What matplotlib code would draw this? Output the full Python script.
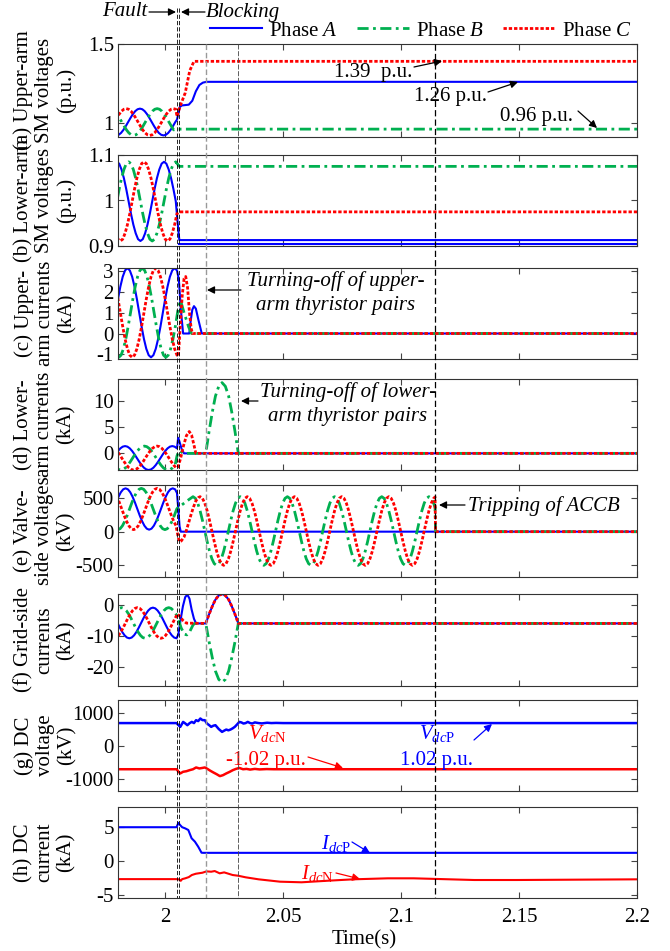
import numpy as np
import matplotlib
matplotlib.use("Agg")
import matplotlib.pyplot as plt
from matplotlib.patches import FancyArrowPatch

plt.rcParams.update({
    "font.family": ["Liberation Serif", "DejaVu Serif"],
    "mathtext.fontset": "custom",
    "mathtext.rm": "Liberation Serif",
    "mathtext.it": "Liberation Serif:italic",
    "font.size": 15,
    "axes.unicode_minus": False,
})

# ---------------------------------------------------------------- data
STEP = 0.001  # sample spacing of the steady-state waveforms (s)

# event instants (s): fault, blocking, upper-arm off, lower-arm off, ACCB trip
event_times = [2.0048, 2.0057, 2.0172, 2.0310, 2.1145]

x_ticks = [2.0, 2.05, 2.1, 2.15, 2.2]
x_tick_labels = ["2", "2.05", "2.1", "2.15", "2.2"]

# (a) upper-arm SM voltages (p.u.)
a_blue_t0 = 1.9793
a_blue_pre = [0.920, 0.924, 0.936, 0.955, 0.979, 1.005, 1.031, 1.055, 1.074, 1.086,
              1.090, 1.086, 1.074, 1.055, 1.031, 1.005, 0.979, 0.955, 0.936, 0.924,
              0.920, 0.924, 0.936, 0.955, 0.979, 1.005]
a_blue_post_t = [2.0050, 2.0056, 2.0062, 2.0070, 2.0100, 2.0115, 2.0130, 2.0145, 2.0160, 2.0175, 2.2000]
a_blue_post = [1.020, 1.060, 1.100, 1.110, 1.115, 1.140, 1.200, 1.240, 1.255, 1.260, 1.260]

a_red_t0 = 1.9735
a_red_pre = [0.920, 0.924, 0.936, 0.955, 0.979, 1.005, 1.031, 1.055, 1.074, 1.086,
             1.090, 1.086, 1.074, 1.055, 1.031, 1.005, 0.979, 0.955, 0.936, 0.924,
             0.920, 0.924, 0.936, 0.955, 0.979, 1.005, 1.031, 1.055, 1.074, 1.086,
             1.090, 1.086]
a_red_post_t = [2.0050, 2.0058, 2.0067, 2.0085, 2.0104, 2.0122, 2.2000]
a_red_post = [1.040, 1.080, 1.120, 1.190, 1.330, 1.390, 1.390]

a_green_t0 = 1.9766
a_green_pre = [1.090, 1.086, 1.074, 1.055, 1.031, 1.005, 0.979, 0.955, 0.936, 0.924,
               0.920, 0.924, 0.936, 0.955, 0.979, 1.005, 1.031, 1.055, 1.074, 1.086,
               1.090, 1.086, 1.074, 1.055, 1.031, 1.005, 0.979, 0.955]
a_green_post_t = [2.0046, 2.2000]
a_green_post = [0.960, 0.960]

# (b) lower-arm SM voltages (p.u.)
b_blue_t0 = 1.9795
b_blue_pre = [1.085, 1.081, 1.068, 1.049, 1.025, 0.998, 0.971, 0.947, 0.928, 0.915,
              0.911, 0.915, 0.928, 0.947, 0.971, 0.998, 1.025, 1.049, 1.068, 1.081,
              1.085, 1.081, 1.068, 1.049, 1.025, 0.998]
b_blue_post_t = [2.0053, 2.0060, 2.2000]
b_blue_post = [0.950, 0.913, 0.913]
b_blue2_t = [2.0060, 2.2000]
b_blue2 = [0.904, 0.904]

b_red_t0 = 1.9710
b_red_pre = [1.085, 1.081, 1.068, 1.049, 1.025, 0.998, 0.971, 0.947, 0.928, 0.915,
             0.911, 0.915, 0.928, 0.947, 0.971, 0.998, 1.025, 1.049, 1.068, 1.081,
             1.085, 1.081, 1.068, 1.049, 1.025, 0.998, 0.971, 0.947, 0.928, 0.915,
             0.911, 0.915, 0.928, 0.947, 0.971]
b_red_post_t = [2.0060, 2.2000]
b_red_post = [0.975, 0.975]

b_green_t0 = 1.9745
b_green_pre = [0.911, 0.915, 0.928, 0.947, 0.971, 0.998, 1.025, 1.049, 1.068, 1.081,
               1.085, 1.081, 1.068, 1.049, 1.025, 0.998, 0.971, 0.947, 0.928, 0.915,
               0.911, 0.915, 0.928, 0.947, 0.971, 0.998, 1.025, 1.049, 1.068, 1.081,
               1.085]
b_green_post_t = [2.0060, 2.2000]
b_green_post = [1.075, 1.075]

# (c) upper-arm currents (kA)
c_blue_t0 = 1.9740
c_blue_pre = [-1.150, -1.045, -0.739, -0.264, 0.336, 1.000, 1.664, 2.264, 2.739, 3.045,
              3.150, 3.045, 2.739, 2.264, 1.664, 1.000, 0.336, -0.264, -0.739, -1.045,
              -1.150, -1.045, -0.739, -0.264, 0.336, 1.000, 1.664, 2.264, 2.739, 3.045,
              3.150, 3.045]
c_blue_post_t = [2.0058, 2.0066, 2.0076, 2.0102, 2.0108, 2.0115, 2.0122, 2.0130, 2.0140, 2.0155, 2.2000]
c_blue_post = [2.600, 1.200, 0.000, 0.000, 0.600, 1.150, 1.320, 1.200, 0.700, 0.000, 0.000]

c_red_t0 = 1.9760
c_red_pre = [3.150, 3.045, 2.739, 2.264, 1.664, 1.000, 0.336, -0.264, -0.739, -1.045,
             -1.150, -1.045, -0.739, -0.264, 0.336, 1.000, 1.664, 2.264, 2.739, 3.045,
             3.150, 3.045, 2.739, 2.264, 1.664, 1.000, 0.336, -0.264, -0.739, -1.045]
c_red_post_t = [2.0056, 2.0063, 2.0072, 2.0080, 2.0087, 2.0095, 2.0103, 2.0110, 2.0116, 2.2000]
c_red_post = [-1.100, 0.200, 1.800, 2.650, 2.750, 2.200, 1.000, 0.250, 0.000, 0.000]

c_green_t0 = 1.9703
c_green_pre = [3.150, 3.045, 2.739, 2.264, 1.664, 1.000, 0.336, -0.264, -0.739, -1.045,
               -1.150, -1.045, -0.739, -0.264, 0.336, 1.000, 1.664, 2.264, 2.739, 3.045,
               3.150, 3.045, 2.739, 2.264, 1.664, 1.000, 0.336, -0.264, -0.739, -1.045,
               -1.150, -1.045, -0.739, -0.264, 0.336]
c_green_post_t = [2.0055, 2.0065, 2.0080, 2.0100, 2.0112, 2.2000]
c_green_post = [1.200, 1.600, 1.000, 0.300, 0.000, 0.000]

# (d) lower-arm currents (kA)
d_blue_t0 = 1.9730
d_blue_pre = [-3.200, -3.087, -2.761, -2.252, -1.611, -0.900, -0.189, 0.452, 0.961, 1.287,
              1.400, 1.287, 0.961, 0.452, -0.189, -0.900, -1.611, -2.252, -2.761, -3.087,
              -3.200, -3.087, -2.761, -2.252, -1.611, -0.900, -0.189, 0.452, 0.961, 1.287,
              1.400, 1.287, 0.961]
d_blue_post_t = [2.0055, 2.0061, 2.0070, 2.0080, 2.2000]
d_blue_post = [3.000, 2.200, 0.800, 0.000, 0.000]

d_red_t0 = 1.9766
d_red_pre = [1.400, 1.287, 0.961, 0.452, -0.189, -0.900, -1.611, -2.252, -2.761, -3.087,
             -3.200, -3.087, -2.761, -2.252, -1.611, -0.900, -0.189, 0.452, 0.961, 1.287,
             1.400, 1.287, 0.961, 0.452, -0.189, -0.900, -1.611, -2.252, -2.761]
d_red_post_t = [2.0055, 2.0065, 2.0078, 2.0090, 2.0102, 2.0112, 2.0122, 2.0130, 2.2000]
d_red_post = [-2.600, -1.000, 1.500, 3.400, 4.200, 3.500, 1.600, 0.000, 0.000]

d_green_t0 = 1.9712
d_green_pre = [1.400, 1.287, 0.961, 0.452, -0.189, -0.900, -1.611, -2.252, -2.761, -3.087,
               -3.200, -3.087, -2.761, -2.252, -1.611, -0.900, -0.189, 0.452, 0.961, 1.287,
               1.400, 1.287, 0.961, 0.452, -0.189, -0.900, -1.611, -2.252, -2.761, -3.087,
               -3.200, -3.087, -2.761, -2.252]
d_green_post_t = [2.0050, 2.0058, 2.0068, 2.0077, 2.0172, 2.0186, 2.0200, 2.0213, 2.0227,
                  2.0241, 2.0255, 2.0269, 2.0282, 2.0296, 2.0310, 2.2000]
d_green_post = [-0.500, 0.500, 0.300, 0.000, 0.000, 4.200, 8.000, 11.000, 12.900,
                13.600, 12.900, 11.000, 8.000, 4.200, 0.000, 0.000]

# (e) valve-side voltages (kV)
e_blue_t0 = 1.9732
e_blue_pre = [30, 45, 89, 158, 244, 340, 436, 522, 591, 635,
              650, 635, 591, 522, 436, 340, 244, 158, 89, 45,
              30, 45, 89, 158, 244, 340, 436, 522, 591, 635,
              650, 635]
e_blue_post_t = [2.0050, 2.0056, 2.0061, 2.0066, 2.2000]
e_blue_post = [580, 320, 80, 0, 0]

e_red_t0 = 1.9766
e_red_pre = [650, 635, 591, 522, 436, 340, 244, 158, 89, 45,
             30, 45, 89, 158, 244, 340, 436, 522, 591, 635,
             650, 635, 591, 522, 436, 340, 244, 158, 89]
e_red_mid_t = [2.0054, 2.0060, 2.0068, 2.0080, 2.0090, 2.0100, 2.0110, 2.0120, 2.0130, 2.0140]
e_red_mid = [-60, -150, -140, -80, 20, 140, 260, 370, 460, 510]
e_red_osc_t0 = 2.0148
e_red_osc = [525, 500, 427, 313, 169, 10, -149, -293, -407, -480,
             -505, -480, -407, -293, -149, 10, 169, 313, 427, 500,
             525, 500, 427, 313, 169, 10, -149, -293, -407, -480,
             -505, -480, -407, -293, -149, 10, 169, 313, 427, 500,
             525, 500, 427, 313, 169, 10, -149, -293, -407, -480,
             -505, -480, -407, -293, -149, 10, 169, 313, 427, 500,
             525, 500, 427, 313, 169, 10, -149, -293, -407, -480,
             -505, -480, -407, -293, -149, 10, 169, 313, 427, 500,
             525, 500, 427, 313, 169, 10, -149, -293, -407, -480,
             -505, -480, -407, -293, -149, 10, 169, 313, 427, 500]
e_red_end_t = [2.1144, 2.1146, 2.2000]
e_red_end = [520, 0, 0]

e_green_t0 = 1.9799
e_green_pre = [30, 45, 89, 158, 244, 340, 436, 522, 591, 635,
               650, 635, 591, 522, 436, 340, 244, 158, 89, 45,
               30, 45, 89, 158, 244, 340]
e_green_mid_t = [2.0056, 2.0070, 2.0085, 2.0100]
e_green_mid = [370, 400, 440, 480]
e_green_osc_t0 = 2.0118
e_green_osc = [525, 500, 427, 313, 169, 10, -149, -293, -407, -480,
               -505, -480, -407, -293, -149, 10, 169, 313, 427, 500,
               525, 500, 427, 313, 169, 10, -149, -293, -407, -480,
               -505, -480, -407, -293, -149, 10, 169, 313, 427, 500,
               525, 500, 427, 313, 169, 10, -149, -293, -407, -480,
               -505, -480, -407, -293, -149, 10, 169, 313, 427, 500,
               525, 500, 427, 313, 169, 10, -149, -293, -407, -480,
               -505, -480, -407, -293, -149, 10, 169, 313, 427, 500,
               525, 500, 427, 313, 169, 10, -149, -293, -407, -480,
               -505, -480, -407, -293, -149, 10, 169, 313, 427, 500,
               525, 500, 427]
e_green_end_t = [2.1144, 2.1146, 2.2000]
e_green_end = [360, 0, 0]

# (f) grid-side currents (kA)
f_blue_t0 = 1.9748
f_blue_pre = [-0.90, -1.14, -1.85, -2.94, -4.32, -5.85, -7.38, -8.76, -9.85, -10.56,
              -10.80, -10.56, -9.85, -8.76, -7.38, -5.85, -4.32, -2.94, -1.85, -1.14,
              -0.90, -1.14, -1.85, -2.94, -4.32, -5.85, -7.38, -8.76, -9.85, -10.56,
              -10.80]
f_blue_post_t = [2.0056, 2.0065, 2.0075, 2.0085, 2.0094, 2.0103, 2.0112, 2.0122, 2.0131, 2.0172,
                 2.0186, 2.0200, 2.0213, 2.0227, 2.0241, 2.0255, 2.0269, 2.0282, 2.0296, 2.0310, 2.2000]
f_blue_post = [-9.50, -5.00, -0.50, 2.50, 3.30, 2.00, -1.50, -4.50, -6.00, -6.00,
               -3.06, -0.41, 1.69, 3.03, 3.50, 3.03, 1.69, -0.41, -3.06, -6.00, -6.00]

f_red_t0 = 1.9782
f_red_pre = [-10.80, -10.56, -9.85, -8.76, -7.38, -5.85, -4.32, -2.94, -1.85, -1.14,
             -0.90, -1.14, -1.85, -2.94, -4.32, -5.85, -7.38, -8.76, -9.85, -10.56,
             -10.80, -10.56, -9.85, -8.76, -7.38, -5.85, -4.32, -2.94]
f_red_post_t = [2.0060, 2.0075, 2.0090, 2.0172, 2.0186, 2.0200, 2.0213, 2.0227, 2.0241,
                2.0255, 2.0269, 2.0282, 2.0296, 2.0310, 2.2000]
f_red_post = [-3.50, -5.00, -5.90, -6.00, -3.06, -0.41, 1.69, 3.03, 3.50,
              3.03, 1.69, -0.41, -3.06, -6.00, -6.00]

f_green_t0 = 1.9715
f_green_pre = [-10.80, -10.56, -9.85, -8.76, -7.38, -5.85, -4.32, -2.94, -1.85, -1.14,
               -0.90, -1.14, -1.85, -2.94, -4.32, -5.85, -7.38, -8.76, -9.85, -10.56,
               -10.80, -10.56, -9.85, -8.76, -7.38, -5.85, -4.32, -2.94, -1.85, -1.14,
               -0.90, -1.14, -1.85, -2.94]
f_green_post_t = [2.0055, 2.0068, 2.0082, 2.0092, 2.0105, 2.0118, 2.0125, 2.0172, 2.0186, 2.0200,
                  2.0213, 2.0227, 2.0241, 2.0255, 2.0269, 2.0282, 2.0296, 2.0310, 2.2000]
f_green_post = [-4.50, -7.50, -9.50, -9.70, -8.50, -6.50, -6.00, -6.00, -11.87, -17.17,
                -21.37, -24.07, -25.00, -24.07, -21.37, -17.17, -11.87, -6.00, -6.00]

# (g) DC voltages (kV)
g_p_t = [1.9800, 2.0048, 2.0056, 2.0064, 2.0070, 2.0076, 2.0085, 2.0094, 2.0104, 2.0113,
         2.0122, 2.0131, 2.0140, 2.0149, 2.0158, 2.0168, 2.0177, 2.0186, 2.0195, 2.0204,
         2.0213, 2.0227, 2.0241, 2.0250, 2.0259, 2.0268, 2.0277, 2.0286, 2.0295, 2.0305,
         2.0314, 2.0323, 2.0332, 2.0341, 2.0350, 2.0360, 2.0369, 2.0380, 2.0396, 2.0410,
         2.0432, 2.0450, 2.0470, 2.0500, 2.2000]
g_p = [700, 700, 640, 585, 660, 736, 690, 636, 700, 736,
       700, 788, 760, 839, 790, 788, 686, 640, 585, 620,
       636, 520, 433, 470, 504, 480, 504, 540, 585, 660,
       736, 720, 686, 700, 736, 700, 686, 720, 700, 690,
       710, 700, 705, 700, 700]
g_n_t = [1.9800, 2.0048, 2.0056, 2.0064, 2.0076, 2.0090, 2.0104, 2.0118, 2.0131, 2.0145,
         2.0158, 2.0168, 2.0177, 2.0190, 2.0204, 2.0218, 2.0232, 2.0245, 2.0259, 2.0273,
         2.0287, 2.0300, 2.0314, 2.0330, 2.0345, 2.0360, 2.0380, 2.0400, 2.0430, 2.0460,
         2.2000]
g_n = [-700, -700, -770, -827, -777, -760, -727, -700, -646, -676,
       -660, -646, -680, -740, -797, -850, -909, -880, -827, -780,
       -727, -690, -660, -700, -690, -710, -690, -705, -695, -700,
       -700]

# (h) DC currents (kA)
h_p_t = [1.9800, 2.0048, 2.0056, 2.0063, 2.0072, 2.0084, 2.0098, 2.0112, 2.0126, 2.0140,
         2.0154, 2.0162, 2.2000]
h_p = [5.00, 5.00, 5.65, 5.33, 5.00, 4.84, 4.59, 3.36, 2.86, 2.11,
       1.22, 1.20, 1.20]
h_n_t = [1.9800, 2.0048, 2.0060, 2.0066, 2.0072, 2.0085, 2.0100, 2.0113, 2.0130, 2.0158,
         2.0175, 2.0195, 2.0210, 2.0231, 2.0250, 2.0286, 2.0310, 2.0341, 2.0396, 2.0487,
         2.0578, 2.0688, 2.0797, 2.0944, 2.1053, 2.1310, 2.1490, 2.2000]
h_n = [-2.70, -2.70, -2.75, -2.95, -2.70, -2.58, -2.40, -2.09, -1.90, -1.75,
       -1.55, -1.60, -1.50, -1.84, -1.70, -2.09, -2.20, -2.43, -2.73, -3.08,
       -3.17, -2.94, -2.73, -2.58, -2.58, -2.83, -2.83, -2.73]


# ---------------------------------------------------------------- helpers
def uniform(t0, vals):
    vals = np.asarray(vals, float)
    return t0 + STEP * np.arange(len(vals)), vals


def points(ts, vals):
    return np.asarray(ts, float), np.asarray(vals, float)


def trace(*parts):
    return (np.concatenate([p[0] for p in parts]),
            np.concatenate([p[1] for p in parts]))


W, H = 670, 951


def fp(x, y):
    """figure pixel (from top-left) -> figure fraction"""
    return (x / W, 1 - y / H)


BLUE = "#0000FF"
GREEN = "#00B050"
RED = "#FF0000"
STYLE_A = dict(color=BLUE, lw=1.5, ls="-")
STYLE_B = dict(color=GREEN, lw=2.0, ls=(0, (4, 1.6, 1, 1.6)))
STYLE_C = dict(color=RED, lw=2.0, ls=(0, (1.2, 0.7)))

fig = plt.figure(figsize=(W / 100, H / 100), dpi=100)

edges = [(44, 137), (155, 246), (268, 359), (379, 470),
         (485, 577), (594, 686), (700, 791), (807, 898)]
axes = [fig.add_axes([118 / W, 1 - b / H, 519 / W, (b - t) / H]) for t, b in edges]

series = [
    [trace(uniform(a_blue_t0, a_blue_pre), points(a_blue_post_t, a_blue_post)),
     trace(uniform(a_green_t0, a_green_pre), points(a_green_post_t, a_green_post)),
     trace(uniform(a_red_t0, a_red_pre), points(a_red_post_t, a_red_post))],
    [trace(uniform(b_blue_t0, b_blue_pre), points(b_blue_post_t, b_blue_post)),
     trace(uniform(b_green_t0, b_green_pre), points(b_green_post_t, b_green_post)),
     trace(uniform(b_red_t0, b_red_pre), points(b_red_post_t, b_red_post))],
    [trace(uniform(c_blue_t0, c_blue_pre), points(c_blue_post_t, c_blue_post)),
     trace(uniform(c_green_t0, c_green_pre), points(c_green_post_t, c_green_post)),
     trace(uniform(c_red_t0, c_red_pre), points(c_red_post_t, c_red_post))],
    [trace(uniform(d_blue_t0, d_blue_pre), points(d_blue_post_t, d_blue_post)),
     trace(uniform(d_green_t0, d_green_pre), points(d_green_post_t, d_green_post)),
     trace(uniform(d_red_t0, d_red_pre), points(d_red_post_t, d_red_post))],
    [trace(uniform(e_blue_t0, e_blue_pre), points(e_blue_post_t, e_blue_post)),
     trace(uniform(e_green_t0, e_green_pre), points(e_green_mid_t, e_green_mid),
           uniform(e_green_osc_t0, e_green_osc), points(e_green_end_t, e_green_end)),
     trace(uniform(e_red_t0, e_red_pre), points(e_red_mid_t, e_red_mid),
           uniform(e_red_osc_t0, e_red_osc), points(e_red_end_t, e_red_end))],
    [trace(uniform(f_blue_t0, f_blue_pre), points(f_blue_post_t, f_blue_post)),
     trace(uniform(f_green_t0, f_green_pre), points(f_green_post_t, f_green_post)),
     trace(uniform(f_red_t0, f_red_pre), points(f_red_post_t, f_red_post))],
]

ylims = [(0.91, 1.5), (0.9, 1.1), (-1.23, 3.16), (-3.2, 14.3),
         (-680, 700), (-26.2, 3.5), (-1360, 1400), (-5.5, 8)]
yticks = [[1, 1.5], [0.9, 1, 1.1], [-1, 0, 1, 2, 3], [0, 5, 10],
          [-500, 0, 500], [-20, -10, 0], [-1000, 0, 1000], [-5, 0, 5]]
ylabels = ["(a) Upper-arm\nSM voltages\n(p.u.)",
           "(b) Lower-arm\nSM voltages\n(p.u.)",
           "(c) Upper-\narm currents\n(kA)",
           "(d) Lower-\narm currents\n(kA)",
           "(e) Valve-\nside voltages\n(kV)",
           "(f) Grid-side\ncurrents\n(kA)",
           "(g) DC\nvoltage\n(kV)",
           "(h) DC\ncurrent\n(kA)"]

legend_handles = None
for i, ax in enumerate(axes):
    if i < len(series):
        blue, green, red = series[i]
        la, = ax.plot(*blue, **STYLE_A)
        if i == 1:
            ax.plot(*points(b_blue2_t, b_blue2), **STYLE_A)
        lb, = ax.plot(*green, **STYLE_B)
        lc, = ax.plot(*red, **STYLE_C)
        if i == 0:
            legend_handles = [la, lb, lc]
    ax.set_xlim(1.98, 2.2)
    ax.set_ylim(*ylims[i])
    ax.set_xticks(x_ticks)
    ax.set_yticks(yticks[i])
    ax.set_yticklabels(["%g" % v for v in yticks[i]])
    ax.tick_params(direction="in", top=True, right=True, length=4, width=0.8,
                   labelsize=15, pad=3, color="#444444")
    if i < 7:
        ax.tick_params(labelbottom=False)
    else:
        ax.set_xticklabels(x_tick_labels)
        ax.tick_params(axis="x", pad=7)
    for sp in ax.spines.values():
        sp.set_color("#333333")
        sp.set_linewidth(0.8)
    t, b = edges[i]
    fig.text(45 / W, 1 - (t + b) / 2 / H, ylabels[i], rotation=90, ha="center",
             va="center", fontsize=15, linespacing=1.15, multialignment="center")

axg, axh = axes[6], axes[7]
axg.plot(*points(g_p_t, g_p), color=BLUE, lw=1.8)
axg.plot(*points(g_n_t, g_n), color=RED, lw=1.8)
axh.plot(*points(h_p_t, h_p), color=BLUE, lw=1.5)
axh.plot(*points(h_n_t, h_n), color=RED, lw=1.5)

fig.text(364 / W, 1 - 940 / H, "Time(s)", ha="center", va="center", fontsize=15)

# vertical event markers across all panels
ov = fig.add_axes([118 / W, 1 - 898 / H, 519 / W, (898 - 6) / H], zorder=10)
ov.set_xlim(1.98, 2.2)
ov.set_ylim(898, 6)
ov.axis("off")
ov.patch.set_alpha(0)
ov.vlines(event_times[0], 8, 898, color="k", lw=0.6, linestyles=(0, (5, 2.5)))
ov.vlines(event_times[1], 8, 898, color="k", lw=0.6, linestyles=(0, (5, 2.5)))
ov.vlines(event_times[2], 44, 898, color="#999999", lw=1.0, linestyles=(0, (4, 2)))
ov.vlines(event_times[3], 44, 898, color="#444444", lw=0.6, linestyles=(0, (6, 2)))
ov.vlines(event_times[4], 44, 898, color="k", lw=0.9, linestyles=(0, (5, 2.5)))


def arrow(p0, p1, color="k"):
    fig.add_artist(FancyArrowPatch(fp(*p0), fp(*p1), transform=fig.transFigure,
                                   arrowstyle="-|>", mutation_scale=11, color=color,
                                   lw=0.9, shrinkA=0, shrinkB=0, zorder=20))


def label(x, y, s, ha="center", color="k", style="normal"):
    fig.text(x / W, 1 - y / H, s, ha=ha, va="center", color=color, fontsize=15,
             style=style, linespacing=1.3, multialignment="center")


label(147, 12, "Fault", ha="right", style="italic")
arrow((149, 12), (176, 12))
label(206, 12, "Blocking", ha="left", style="italic")
arrow((205, 12), (181, 12))

fig.legend(legend_handles, ["Phase $A$", "Phase $B$", "Phase $C$"], loc="center",
           bbox_to_anchor=fp(421, 31), ncol=3, frameon=False, handlelength=2.5,
           handletextpad=0.35, columnspacing=0.9, borderpad=0, borderaxespad=0,
           fontsize=15)

label(373, 73, "1.39  p.u.")
arrow((414, 67), (442, 61))
label(451, 97, "1.26 p.u.")
arrow((488, 92), (518, 82))
label(536, 117, "0.96 p.u.")
arrow((578, 111), (597, 128))

label(336, 293, "Turning-off of upper-\narm thyristor pairs", style="italic")
arrow((241, 290), (207, 290))
label(348, 404, "Turning-off of lower-\narm thyristor pairs", style="italic")
arrow((258, 401), (241, 401))
label(468, 506, "Tripping of ACCB", ha="left", style="italic")
arrow((465, 505), (439, 505))

label(267, 733, r"$V_{dc\mathrm{N}}$", color=RED)
label(266, 760, "-1.02 p.u.", color=RED)
arrow((308, 757), (343, 768), color=RED)
label(437, 733, r"$V_{dc\mathrm{P}}$", color=BLUE)
label(437, 760, "1.02 p.u.", color=BLUE)
arrow((474, 740), (492, 724), color=BLUE)

label(336, 843, r"$I_{dc\mathrm{P}}$", color=BLUE)
arrow((352, 842), (370, 853), color=BLUE)
label(318, 873, r"$I_{dc\mathrm{N}}$", color=RED)
arrow((336, 873), (360, 879), color=RED)

fig.savefig("out.png", dpi=100)
